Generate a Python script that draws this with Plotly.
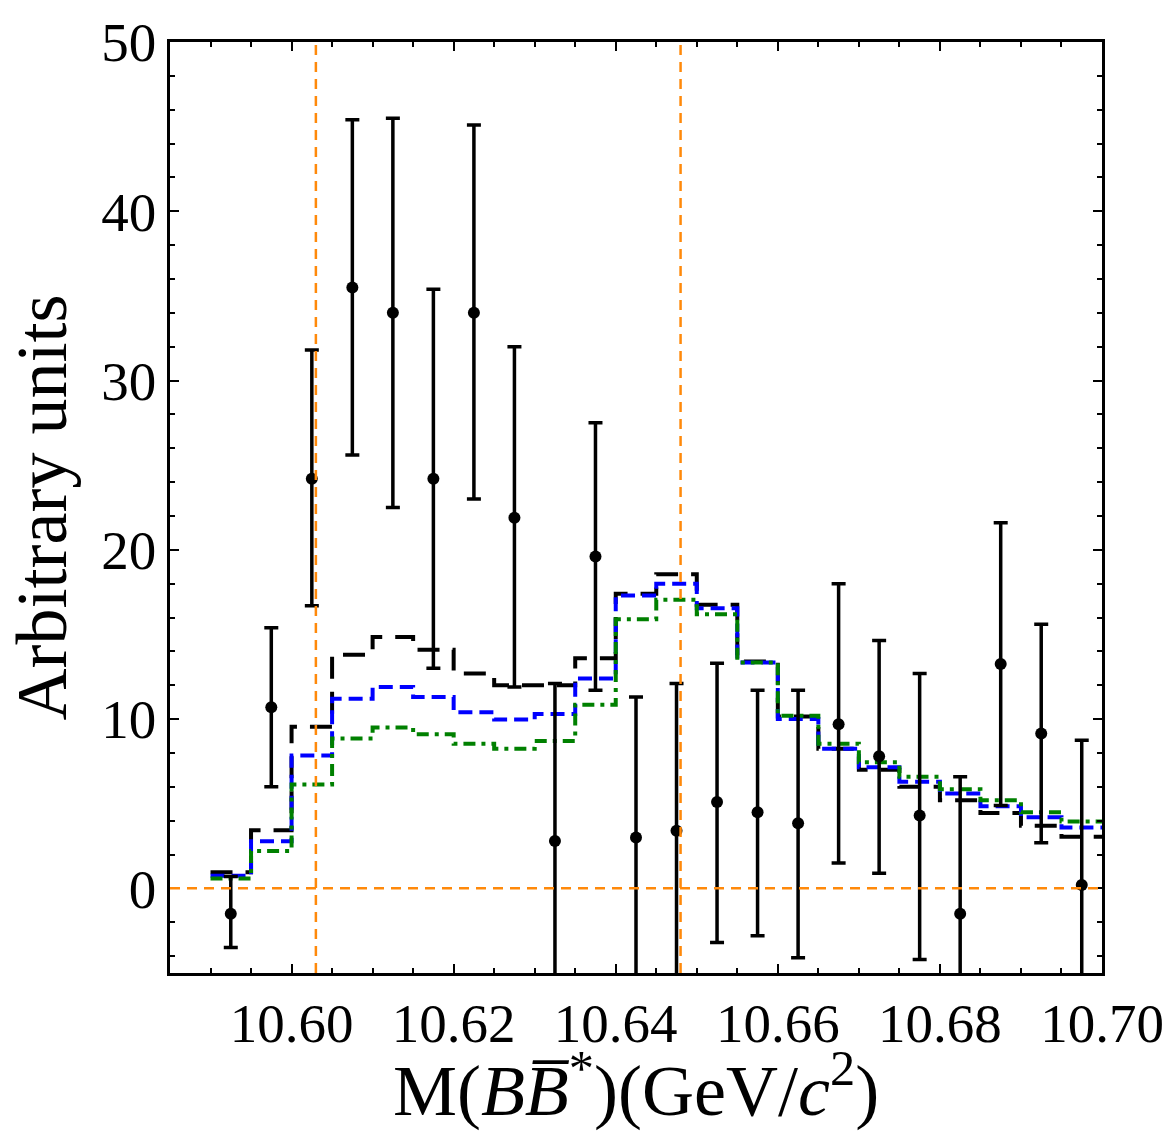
import plotly.graph_objects as go
import numpy as np

# ---- data ----
bin_edges = [10.590, 10.595, 10.600, 10.605, 10.610, 10.615, 10.620, 10.625,
             10.630, 10.635, 10.640, 10.645, 10.650, 10.655, 10.660, 10.665,
             10.670, 10.675, 10.680, 10.685, 10.690, 10.695, 10.700]
bin_centers = [10.5925, 10.5975, 10.6025, 10.6075, 10.6125, 10.6175, 10.6225,
               10.6275, 10.6325, 10.6375, 10.6425, 10.6475, 10.6525, 10.6575,
               10.6625, 10.6675, 10.6725, 10.6775, 10.6825, 10.6875, 10.6925,
               10.6975]

data_val = [-1.5, 10.7, 24.2, 35.5, 34.0, 24.2, 34.0, 21.9, 2.8, 19.6, 3.0,
            3.4, 5.1, 4.5, 3.85, 9.7, 7.8, 4.3, -1.5, 13.25, 9.15, 0.2]
data_hi = [0.7, 15.4, 31.8, 45.4, 45.5, 35.4, 45.1, 32.0, 12.1, 27.5, 11.3,
           12.1, 13.3, 11.7, 11.7, 18.0, 14.65, 12.7, 6.6, 21.6, 15.6, 8.75]
data_lo = [-3.5, 6.0, 16.7, 25.6, 22.5, 13.0, 23.0, 11.9, -6.5, 11.7, -5.3,
           -5.3, -3.2, -2.8, -4.1, 1.5, 0.9, -4.2, -9.6, 4.9, 2.7, -8.35]

hist_black = [0.95, 3.43, 9.55, 13.8, 14.85, 14.1, 12.7, 12.0, 12.0, 13.6, 17.4,
              18.55, 16.75, 13.4, 10.15, 8.25, 7.0, 6.0, 5.2, 4.45, 3.7, 3.05]
hist_blue = [0.75, 2.79, 7.85, 11.2, 11.9, 11.3, 10.4, 9.97, 10.3, 12.4, 17.3,
             18.0, 16.55, 13.35, 10.0, 8.25, 7.15, 6.3, 5.6, 4.85, 4.2, 3.6]
hist_green = [0.58, 2.2, 6.14, 8.85, 9.5, 9.1, 8.55, 8.25, 8.7, 10.85, 15.9,
              17.05, 16.2, 13.35, 10.2, 8.55, 7.45, 6.6, 5.85, 5.2, 4.5, 3.95]

thresholds = [10.603, 10.648]
x_ticks = [10.60, 10.62, 10.64, 10.66, 10.68, 10.70]
y_ticks = [0, 10, 20, 30, 40, 50]

FONT = "Liberation Serif"
ORANGE = "rgb(255,137,10)"

fig = go.Figure()

hists = [
    (hist_black, "black", "22px,13px"),
    (hist_blue, "rgb(0,0,255)", "14px,7px"),
    (hist_green, "rgb(0,128,0)", "12px,6px,4px,6px"),
]
for vals, col, dash in hists:
    fig.add_trace(go.Scatter(
        x=bin_edges, y=list(vals) + [vals[-1]], mode="lines",
        line=dict(shape="hv", color=col, width=4, dash=dash),
        showlegend=False, hoverinfo="skip"))

v = np.array(data_val)
fig.add_trace(go.Scatter(
    x=bin_centers, y=data_val, mode="markers",
    marker=dict(size=12, color="black"),
    error_y=dict(type="data", symmetric=False,
                 array=(np.array(data_hi) - v).tolist(),
                 arrayminus=(v - np.array(data_lo)).tolist(),
                 thickness=3.5, width=7, color="black"),
    showlegend=False))

for t in thresholds:
    fig.add_shape(type="line", xref="x", yref="paper", x0=t, x1=t, y0=0, y1=1,
                  line=dict(color=ORANGE, width=2.5, dash="10px,7px"), layer="above")
fig.add_shape(type="line", xref="paper", yref="y", x0=0, x1=1, y0=0, y1=0,
              line=dict(color=ORANGE, width=2.5, dash="10px,7px"), layer="above")

axis_common = dict(
    showline=True, linewidth=2.5, linecolor="black", mirror="ticks",
    ticks="inside", ticklen=9, tickwidth=2, tickcolor="black",
    showgrid=False, zeroline=False,
    tickfont=dict(family=FONT, size=55, color="black"),
)

fig.update_layout(
    width=1176, height=1131,
    margin=dict(l=170, r=67, t=36, b=158),
    paper_bgcolor="white", plot_bgcolor="white",
    xaxis=dict(range=[10.585, 10.70], tickvals=x_ticks, tickformat=".2f",
               minor=dict(dtick=0.005, tick0=10.59, ticks="inside", ticklen=5,
                          tickwidth=2, tickcolor="black", showgrid=False),
               title=dict(text="M(<i>B</i><i>B\u0305</i><sup>*</sup>)(GeV/<i>c</i><sup>2</sup>)",
                          font=dict(family=FONT, size=72, color="black"), standoff=14),
               **axis_common),
    yaxis=dict(range=[-5, 50], tickvals=y_ticks,
               minor=dict(dtick=2, tick0=0, ticks="inside", ticklen=5,
                          tickwidth=2, tickcolor="black", showgrid=False),
               title=dict(text="Arbitrary units",
                          font=dict(family=FONT, size=72, color="black"), standoff=12),
               **axis_common),
)

fig.write_html("out.html")
